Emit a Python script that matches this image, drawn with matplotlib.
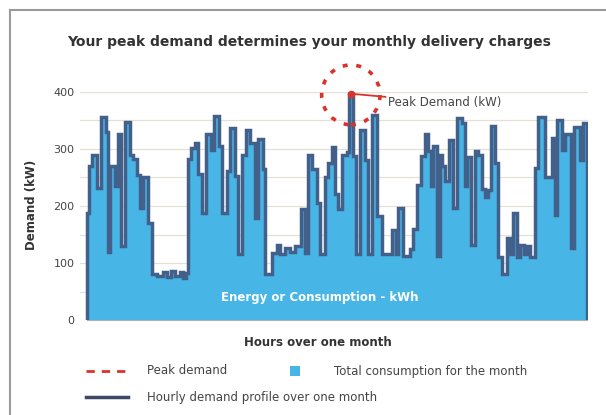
import numpy as np
import matplotlib
matplotlib.use("Agg")
import matplotlib.pyplot as plt
from matplotlib.patches import Ellipse, Rectangle
from matplotlib.lines import Line2D

# ---------------- data ----------------
# start hour of each step of the hourly demand profile (month = 720 h)
hour_starts = [0, 3, 7, 14, 20, 27, 30, 33, 40, 45, 49, 55, 62, 66, 72, 76, 81, 88,
               94, 101, 109, 115, 121, 127, 134, 138, 143, 145, 150, 156, 160, 166,
               171, 179, 183, 190, 194, 202, 206, 213, 217, 223, 229, 235, 242, 246,
               253, 256, 266, 274, 278, 285, 292, 300, 308, 314, 318, 324, 331, 336,
               343, 347, 353, 357, 361, 367, 374, 377, 383, 387, 393, 400, 405, 410,
               418, 425, 439, 445, 448, 455, 465, 469, 475, 481, 487, 491, 495, 498,
               504, 508, 511, 516, 521, 527, 533, 540, 544, 547, 553, 559, 563, 569,
               573, 577, 582, 588, 592, 598, 605, 609, 613, 619, 624, 629, 634, 638,
               645, 649, 660, 670, 674, 677, 684, 688, 697, 701, 710, 714]
# demand (kW) in each step
demand = [188, 270, 289, 232, 356, 330, 120, 270, 235, 327, 130, 347, 290, 283, 255,
          196, 250, 170, 81, 78, 85, 75, 86, 78, 84, 74, 82, 283, 302, 310, 256, 188,
          327, 298, 358, 305, 188, 262, 336, 252, 115, 290, 333, 310, 179, 318, 265,
          81, 117, 132, 115, 126, 120, 130, 195, 118, 289, 265, 205, 115, 250, 276,
          303, 221, 195, 289, 294, 397, 288, 115, 333, 280, 115, 359, 183, 115, 158,
          115, 196, 113, 124, 160, 237, 288, 327, 296, 235, 306, 112, 289, 270, 243,
          315, 196, 354, 345, 235, 286, 132, 297, 290, 230, 215, 228, 341, 275, 110,
          81, 143, 115, 188, 110, 132, 115, 130, 110, 267, 356, 250, 320, 185, 350,
          298, 327, 126, 338, 280, 345]
month_end = 720
y_ticks = [0, 100, 200, 300, 400]

# ---------------- style ----------------
fill_c = "#47b5e6"
line_c = "#42608a"
red = "#d9342c"
txt = "#333333"

W, H = 606, 415
fig = plt.figure(figsize=(W / 100, H / 100), dpi=100)
fig.patch.set_facecolor("white")

# frame around the figure
fig.add_artist(Line2D([10 / W, 10 / W], [0, 1 - 10 / H], color="#9a9a9a", lw=1.5))
fig.add_artist(Line2D([10 / W, 1], [1 - 10 / H, 1 - 10 / H], color="#9a9a9a", lw=1.5))

ax = fig.add_axes([80 / W, (H - 320) / H, 508 / W, 228 / H])

xs = np.r_[0, hour_starts, month_end, month_end]
ys = np.r_[0, demand, demand[-1], 0]
ax.fill_between(np.r_[hour_starts, month_end], np.r_[demand, demand[-1]], 0,
                step="post", color=fill_c, lw=0, zorder=2)
ax.plot(xs, ys, drawstyle="steps-post", color=line_c, lw=2.5, zorder=3,
        solid_joinstyle="miter")

ax.set_xlim(-10, 721.5)
ax.set_ylim(0, 400)
ax.set_yticks(y_ticks)
ax.set_yticks(np.arange(50, 400, 100), minor=True)
ax.set_xticks([])
ax.tick_params(axis="y", which="both", length=0, pad=4, labelsize=8, labelcolor="#444444")
ax.grid(axis="y", which="both", color="#e6e0d4", lw=0.9, zorder=0)
for s in ["top", "right", "left"]:
    ax.spines[s].set_visible(False)
ax.spines["bottom"].set_color("#b0b0b0")
ax.spines["bottom"].set_bounds(0, month_end)

# peak marker
i = int(np.argmax(demand))
peak_x = (hour_starts[i] + hour_starts[i + 1]) / 2
peak_y = demand[i]
ax.plot([peak_x], [peak_y], "o", color=red, ms=4.5, zorder=5, clip_on=False)
ax.add_patch(Ellipse((peak_x, peak_y - 2), 84, 105, fill=False, ec=red, lw=2.6,
                     ls=(0, (1.4, 2.4)), zorder=6, clip_on=False))
ax.annotate("Peak Demand (kW)", xy=(peak_x, peak_y), xytext=(peak_x + 54, peak_y - 15),
            ha="left", va="center", fontsize=8.5, color="#444444",
            arrowprops=dict(arrowstyle="-", color=red, lw=1.3, shrinkA=0, shrinkB=0),
            zorder=6)

ax.text(month_end * 0.465, 40, "Energy or Consumption - kWh", color="white",
        fontsize=8.5, fontweight="bold", ha="center", va="center", zorder=4)

# titles and labels
fig.text(309 / W, 1 - 42 / H, "Your peak demand determines your monthly delivery charges",
         ha="center", va="center", fontsize=10, fontweight="bold", color=txt)
fig.text(31 / W, 1 - 205 / H, "Demand (kW)", rotation=90, ha="center", va="center",
         fontsize=8.5, fontweight="bold", color=txt)
fig.text(318 / W, 1 - 342 / H, "Hours over one month", ha="center", va="center",
         fontsize=8.5, fontweight="bold", color=txt)

# legend (drawn manually)
y1, y2 = 1 - 371 / H, 1 - 397 / H
fig.add_artist(Line2D([86 / W, 128 / W], [y1, y1], color=red, lw=2, ls=(0, (3, 2.5))))
fig.text(147 / W, y1, "Peak demand", ha="left", va="center", fontsize=8.5, color="#444444")
fig.add_artist(Rectangle((290 / W, y1 - 5 / H), 10 / W, 10 / H, color=fill_c, lw=0))
fig.text(334 / W, y1, "Total consumption for the month", ha="left", va="center",
         fontsize=8.5, color="#444444")
fig.add_artist(Line2D([86 / W, 128 / W], [y2, y2], color="#3d4869", lw=2.5))
fig.text(147 / W, y2, "Hourly demand profile over one month", ha="left", va="center",
         fontsize=8.5, color="#444444")

fig.savefig("out.png", dpi=100)
